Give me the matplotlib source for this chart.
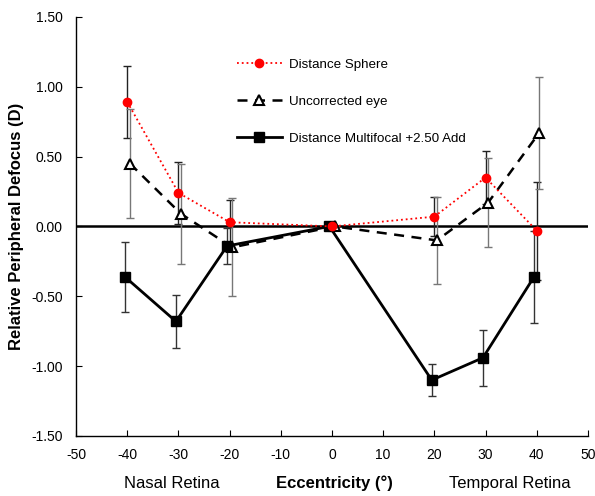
import matplotlib
matplotlib.use("Agg")
import matplotlib.pyplot as plt

plt.rcParams["font.family"] = ["Liberation Sans", "DejaVu Sans"]
plt.rcParams["axes.unicode_minus"] = False

# ---- data ----
ecc = [-40, -30, -20, 0, 20, 30, 40]

sphere = [0.89, 0.24, 0.03, 0.00, 0.07, 0.35, -0.03]
sphere_err = [0.26, 0.22, 0.16, 0.0, 0.14, 0.19, 0.35]

uncorrected = [0.45, 0.09, -0.15, 0.00, -0.10, 0.17, 0.67]
uncorrected_err = [0.39, 0.36, 0.35, 0.0, 0.31, 0.32, 0.40]

multifocal = [-0.36, -0.68, -0.14, 0.00, -1.10, -0.94, -0.36]
multifocal_err = [0.25, 0.19, 0.13, 0.0, 0.115, 0.20, 0.33]

xticks = list(range(-50, 51, 10))
yticks = [-1.5, -1.0, -0.5, 0.0, 0.5, 1.0, 1.5]

fig = plt.figure(figsize=(5.95, 4.96), dpi=100)
ax = fig.add_axes([0.128, 0.121, 0.860, 0.845])

# zero line
ax.axhline(0, color="black", lw=1.8, zorder=1)


def shift(xs, d):
    return [x + d for x in xs]


# error bars (drawn first, behind markers)
ax.errorbar(shift(ecc, 0.0), sphere, yerr=sphere_err, fmt="none",
            ecolor="#222222", elinewidth=1.0, capsize=3, capthick=1.0, zorder=2)
ax.errorbar(shift(ecc, 0.5), uncorrected, yerr=uncorrected_err, fmt="none",
            ecolor="#777777", elinewidth=1.0, capsize=3, capthick=1.0, zorder=2)
ax.errorbar(shift(ecc, -0.5), multifocal, yerr=multifocal_err, fmt="none",
            ecolor="#333333", elinewidth=1.0, capsize=3, capthick=1.0, zorder=2)

ax.plot(shift(ecc, 0.0), sphere, color="red", ls=":", lw=1.3, marker="o",
        ms=6, mec="red", mfc="red", label="Distance Sphere", zorder=4)
ax.plot(shift(ecc, 0.5), uncorrected, color="black", ls=(0, (4, 3)), lw=1.8,
        marker="^", ms=7, mfc="white", mec="black", mew=1.5,
        label="Uncorrected eye", zorder=3)
ax.plot(shift(ecc, -0.5), multifocal, color="black", ls="-", lw=2.0,
        marker="s", ms=6.5, mfc="black", mec="black",
        label="Distance Multifocal +2.50 Add", zorder=3)

ax.set_xlim(-50, 50)
ax.set_ylim(-1.5, 1.5)
ax.set_xticks(xticks)
ax.set_yticks(yticks)
ax.set_yticklabels([f"{v:.2f}" for v in yticks])
ax.tick_params(direction="in", length=4, labelsize=10)
ax.tick_params(axis="y", pad=9.5)
ax.tick_params(axis="x", pad=8.5)

for s in ["top", "right"]:
    ax.spines[s].set_visible(False)
for s in ["left", "bottom"]:
    ax.spines[s].set_linewidth(1.0)

ax.set_ylabel("Relative Peripheral Defocus (D)", fontsize=12,
              fontweight="bold", labelpad=5)

fig.text(0.562, 0.026, "Eccentricity (°)", fontsize=12, fontweight="bold",
         ha="center", va="center")
fig.text(0.289, 0.026, "Nasal Retina", fontsize=12, ha="center", va="center")
fig.text(0.857, 0.026, "Temporal Retina", fontsize=12, ha="center", va="center")

ax.legend(loc="upper left", bbox_to_anchor=(0.29, 0.93), frameon=False,
          fontsize=9.6, handlelength=3.4, labelspacing=1.85, handletextpad=0.5)

fig.savefig("out.png", dpi=100)
